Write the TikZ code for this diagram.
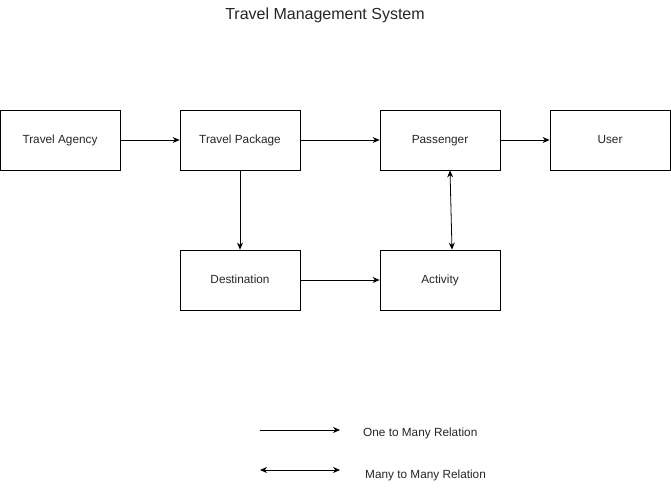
\documentclass[tikz,border=0pt]{standalone}
\usepackage{fontspec}
\setmainfont{Liberation Sans}
\usetikzlibrary{arrows.meta}
\begin{document}
\begin{tikzpicture}[x=1pt,y=-1pt,
  box/.style={draw,line width=0.8pt,minimum width=120pt,minimum height=60pt,inner sep=0pt,font=\fontsize{11.8}{13}\selectfont,text=black!85,text height=8.5pt,text depth=2.5pt},
  arr/.style={line width=0.8pt,-{Stealth[length=7pt,width=6pt]}},
  darr/.style={line width=0.8pt,{Stealth[length=7pt,width=6pt]}-{Stealth[length=7pt,width=6pt]}},
  lbl/.style={font=\fontsize{11.8}{13}\selectfont,text=black!85,anchor=west,inner sep=0pt,text height=8.5pt,text depth=2.5pt}]
\useasboundingbox[fill=white] (0,0) rectangle (671,490);
\node[font=\fontsize{16}{18}\selectfont,text=black!85] (title) at (325,15) {Travel Management System};
\node[box] (ta) at (60,140) {Travel Agency};
\node[box] (tp) at (240,140) {Travel Package};
\node[box] (pa) at (440,140) {Passenger};
\node[box] (us) at (610,140) {User};
\node[box] (de) at (240,280) {Destination};
\node[box] (ac) at (440,280) {Activity};
\draw[arr] (ta) -- (tp);
\draw[arr] (tp) -- (pa);
\draw[arr] (pa) -- (us);
\draw[arr] (tp) -- (de);
\draw[arr] (de) -- (ac);
\draw[darr] (pa.south -| 450,0) -- (ac.north -| 452,0);
\coordinate (l1a) at (260,430);
\coordinate (l1b) at (340,430);
\coordinate (l2a) at (260,470);
\coordinate (l2b) at (340,470);
\draw[arr] (l1a) -- (l1b);
\draw[darr] (l2a) -- (l2b);
\node[lbl] (t1) at (363,433) {One to Many Relation};
\node[lbl] (t2) at (365,475) {Many to Many Relation};
\end{tikzpicture}
\end{document}
